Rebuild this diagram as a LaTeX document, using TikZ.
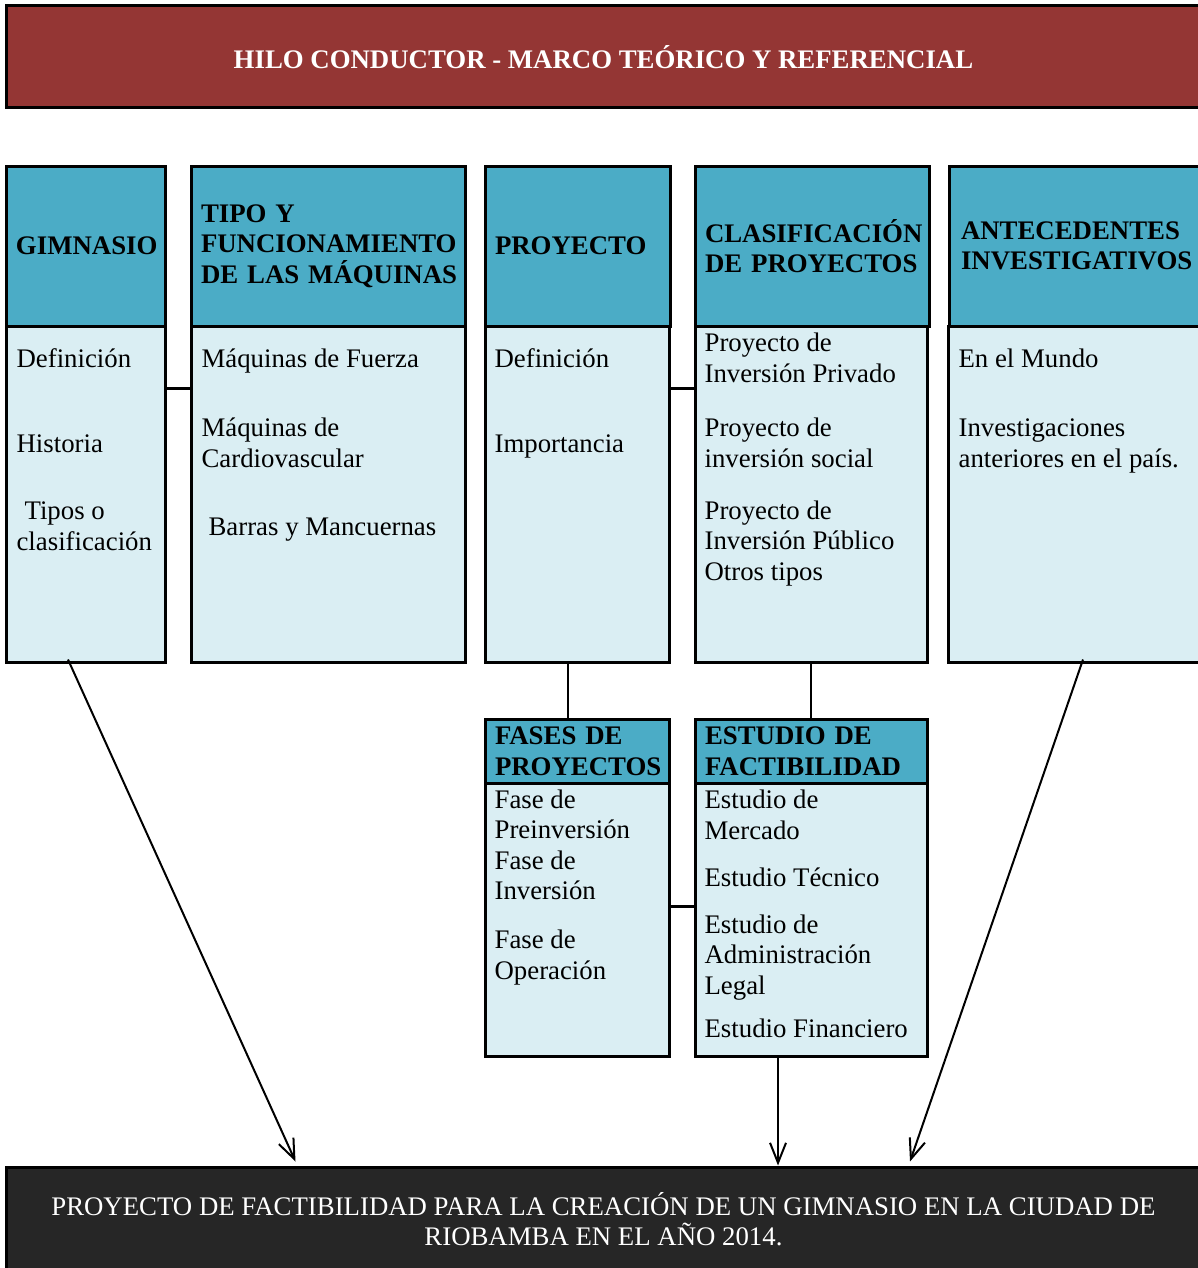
\documentclass[tikz,border=0pt]{standalone}
\usepackage{fontspec}
\setmainfont{Liberation Serif}
\usepackage{tikz}
\usetikzlibrary{arrows.meta}

\definecolor{rojohilo}{HTML}{943634}
\definecolor{azulcab}{HTML}{4BACC6}
\definecolor{azulcue}{HTML}{DAEEF3}
\definecolor{grisfin}{HTML}{262626}

\begin{document}
\begin{tikzpicture}[x=0.5pt, y=-0.5pt, >={Straight Barb[length=10pt,width=8pt]},
                    semithick, every node/.style={font=\fontsize{13.4}{15.25}\selectfont}]
  \tikzstyle{caja}=[draw=black, line width=1.5pt]
  \tikzstyle{cabecera}=[caja, fill=azulcab, font=\bfseries\fontsize{13.4}{15.25}\selectfont,
                        align=left, inner xsep=5pt]
  \tikzstyle{cuerpo}=[caja, fill=azulcue]
  \tikzstyle{texto}=[align=left, inner sep=0pt, anchor=base west]
  \tikzstyle{union}=[line width=1.5pt]
  \tikzstyle{flecha}=[->, line width=1pt]

  \useasboundingbox (0,0) rectangle (1198,1268);

  % titulo y resultado
  \node[caja, fill=rojohilo, text=white, font=\bfseries\fontsize{13.4}{15.25}\selectfont,
        minimum width=597.5pt, minimum height=51pt] (hilo) at (603.5,57)
        {HILO CONDUCTOR - MARCO TEÓRICO Y REFERENCIAL};
  \node[caja, fill=grisfin, text=white, align=center,
        minimum width=597.5pt, minimum height=52pt] (meta) at (603.5,1219)
        {PROYECTO DE FACTIBILIDAD PARA LA CREACIÓN DE UN GIMNASIO EN LA CIUDAD DE\\
         RIOBAMBA EN EL AÑO 2014.};

  % columnas superiores
  \node[cuerpo, minimum width=79.5pt, minimum height=168pt] (gimB) at (85.5,494) {};
  \node[cabecera, minimum width=79.5pt, minimum height=80pt, text width=69.5pt] (gimH) at (85.5,246) {GIMNASIO};
  \node[cuerpo, minimum width=137pt, minimum height=168pt] (tipoB) at (328,494) {};
  \node[cabecera, minimum width=137pt, minimum height=80pt, text width=127pt] (tipoH) at (328,246)
        {TIPO Y\\ FUNCIONAMIENTO\\ \mbox{DE LAS MÁQUINAS}};
  \node[cuerpo, minimum width=92pt, minimum height=168pt] (proyB) at (577,494) {};
  \node[cabecera, minimum width=92.5pt, minimum height=80pt, text width=82.5pt] (proyH) at (577.5,246) {PROYECTO};
  \node[cuerpo, minimum width=116pt, minimum height=168pt] (clasB) at (811,494) {};
  \node[cabecera, minimum width=117pt, minimum height=80pt, text width=107pt] (clasH) at (812,246)
        {CLASIFICACIÓN\\ \mbox{DE PROYECTOS}};
  \node[cuerpo, minimum width=126.5pt, minimum height=168pt] (antB) at (1074.5,494) {};
  \node[cabecera, minimum width=126pt, minimum height=80pt, text width=114pt, inner xsep=6pt] (antH) at (1075,246)
        {ANTECEDENTES\\ INVESTIGATIVOS};

  % columnas inferiores
  \node[cuerpo, minimum width=92pt, minimum height=136.5pt] (fasB) at (577,919.5) {};
  \node[cabecera, minimum width=92pt, minimum height=32pt, text width=82pt] (fasH) at (577,751)
        {\mbox{FASES DE}\\ PROYECTOS};
  \node[cuerpo, minimum width=116pt, minimum height=136.5pt] (estB) at (811,919.5) {};
  \node[cabecera, minimum width=116pt, minimum height=32pt, text width=106pt] (estH) at (811,751)
        {\mbox{ESTUDIO DE}\\ FACTIBILIDAD};

  % contenidos (y = linea base de la ultima linea)
  \node[texto] (gim1) at (16,367) {Definición};
  \node[texto] (gim2) at (16,452) {Historia};
  \node[texto] (gim3) at (16,550) {\hspace*{4pt}Tipos o\\ clasificación};
  \node[texto] (tipo1) at (201,367) {Máquinas de Fuerza};
  \node[texto] (tipo2) at (201,467) {Máquinas de\\ Cardiovascular};
  \node[texto] (tipo3) at (208,535) {Barras y Mancuernas};
  \node[texto] (proy1) at (494,367) {Definición};
  \node[texto] (proy2) at (494,452) {Importancia};
  \node[texto] (clas1) at (704,382) {Proyecto de\\ Inversión Privado};
  \node[texto] (clas2) at (704,467) {Proyecto de\\ inversión social};
  \node[texto] (clas3) at (704,580) {Proyecto de\\ Inversión Público\\ Otros tipos};
  \node[texto] (ant1) at (958,367) {En el Mundo};
  \node[texto] (ant2) at (958,467) {Investigaciones\\ anteriores en el país.};
  \node[texto] (fas1) at (494,899.5) {Fase de\\ Preinversión\\ Fase de\\ Inversión};
  \node[texto] (fas2) at (494,979) {Fase de\\ Operación};
  \node[texto] (est1) at (704,839) {Estudio de\\ Mercado};
  \node[texto] (est2) at (704,886) {Estudio Técnico};
  \node[texto] (est3) at (704,994) {Estudio de\\ Administración\\ Legal};
  \node[texto] (est4) at (704,1037) {Estudio Financiero};

  % conexiones
  \path[union] ([yshift=-32pt]gimB.north east) edge ([yshift=-32pt]tipoB.north west)
               ([yshift=-32pt]proyB.north east) edge ([yshift=-32pt]clasB.north west)
               ([yshift=-62.5pt]fasB.north east) edge ([yshift=-62.5pt]estB.north west);
  \path ([xshift=-4.5pt]proyB.south) edge ([xshift=-4.5pt]fasH.north)
        (clasB.south) edge (estH.north);
  \path[flecha] ([xshift=-8.75pt,yshift=2pt]gimB.south) edge ([xshift=-154pt,yshift=2pt]meta.north)
                ([xshift=-16.5pt]estB.south) edge ([xshift=87.25pt]meta.north)
                ([xshift=4.25pt,yshift=2pt]antB.south) edge ([xshift=153.25pt,yshift=2pt]meta.north);
\end{tikzpicture}
\end{document}
